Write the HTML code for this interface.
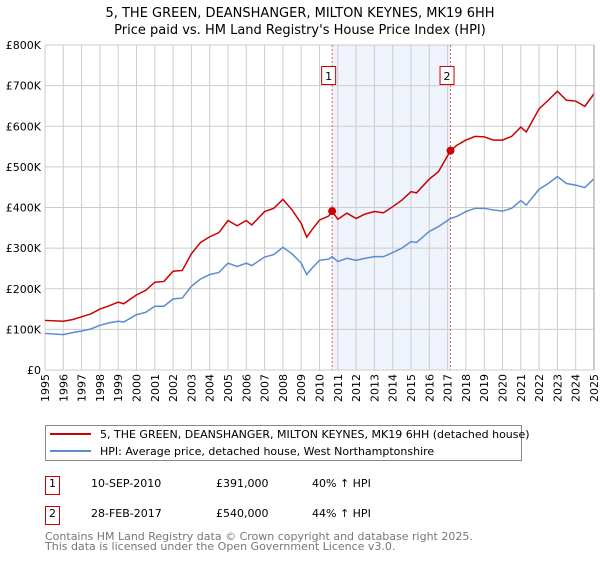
<!DOCTYPE html>
<html><head><meta charset="utf-8"><style>
body{margin:0;background:#fff;font-family:"Liberation Sans","DejaVu Sans",sans-serif;}
svg text{font-family:"DejaVu Sans","Liberation Sans",sans-serif;}
</style></head><body>
<svg id="chart" width="600" height="560" viewBox="0 0 600 560" xmlns="http://www.w3.org/2000/svg">
<text x="300" y="17" text-anchor="middle" font-size="13">5, THE GREEN, DEANSHANGER, MILTON KEYNES, MK19 6HH</text>
<text x="300" y="34" text-anchor="middle" font-size="13">Price paid vs. HM Land Registry's House Price Index (HPI)</text>
<g id="plot"></g>
<g>
<rect x="45.5" y="425.5" width="476" height="35" fill="#fff" stroke="#888"/>
<line x1="50" y1="434" x2="91" y2="434" stroke="#cc0000" stroke-width="2"/>
<text x="100" y="438" font-size="11">5, THE GREEN, DEANSHANGER, MILTON KEYNES, MK19 6HH (detached house)</text>
<line x1="50" y1="451" x2="91" y2="451" stroke="#5b8bd0" stroke-width="2"/>
<text x="100" y="455" font-size="11">HPI: Average price, detached house, West Northamptonshire</text>
</g>
<g font-size="11">
<rect x="45.5" y="476.5" width="14" height="18" fill="none" stroke="#cc0000"/>
<text x="52.5" y="487" text-anchor="middle">1</text>
<text x="91" y="487">10-SEP-2010</text><text x="216" y="487">£391,000</text><text x="312" y="487">40% ↑ HPI</text>
<rect x="45.5" y="506.5" width="14" height="18" fill="none" stroke="#cc0000"/>
<text x="52.5" y="517" text-anchor="middle">2</text>
<text x="91" y="517">28-FEB-2017</text><text x="216" y="517">£540,000</text><text x="312" y="517">44% ↑ HPI</text>
</g>
<text x="45" y="540" font-size="11" fill="#777">Contains HM Land Registry data © Crown copyright and database right 2025.</text>
<text x="45" y="550" font-size="11" fill="#777">This data is licensed under the Open Government Licence v3.0.</text>
</svg>
<script>
const yearsRed=[1995,1996,1996.5,1997,1997.5,1998,1998.5,1999,1999.3,2000,2000.5,2001,2001.5,2002,2002.5,2003,2003.5,2004,2004.5,2005,2005.5,2006,2006.3,2007,2007.5,2008,2008.5,2009,2009.3,2009.6,2010,2010.5,2010.69,2011,2011.5,2012,2012.5,2013,2013.5,2014,2014.5,2015,2015.3,2016,2016.5,2017.16,2017.5,2018,2018.5,2019,2019.5,2020,2020.5,2021,2021.3,2022,2022.5,2023,2023.5,2024,2024.5,2025];
const redValues=[122,120,124,131,138,150,158,167,163,185,196,216,218,243,245,286,314,328,338,368,355,368,357,390,398,420,394,361,327,346,369,379,391,371,386,373,384,390,387,402,418,439,436,470,488,540,553,566,575,574,566,566,575,598,586,643,664,686,664,662,649,680];
const hpiValues=[90,87,92,96,101,110,116,120,118,136,142,157,157,175,177,206,224,235,240,263,255,263,257,278,284,302,286,263,235,251,270,273,279,267,275,270,275,279,279,289,300,316,314,341,353,373,378,390,398,398,394,391,398,417,406,445,459,476,459,455,449,471];
const yTicks=[0,100,200,300,400,500,600,700,800];
const yTickLabels=["£0","£100K","£200K","£300K","£400K","£500K","£600K","£700K","£800K"];
const xTicks=[1995,1996,1997,1998,1999,2000,2001,2002,2003,2004,2005,2006,2007,2008,2009,2010,2011,2012,2013,2014,2015,2016,2017,2018,2019,2020,2021,2022,2023,2024,2025];
const saleDates=[2010.69,2017.16];
const saleValues=[391,540];
const saleLabels=["1","2"];

const X0=45,X1=594,Y0=370,Y1=45;
const xs=y=>X0+(y-1995)/30*(X1-X0);
const ys=v=>Y0-v/800*(Y0-Y1);
const NS="http://www.w3.org/2000/svg";
const plot=document.getElementById('plot');
function mk(t,a){const e=document.createElementNS(NS,t);for(const k in a)e.setAttribute(k,a[k]);plot.appendChild(e);return e;}

const shade=mk('rect',{x:xs(saleDates[0]),y:Y1,width:xs(saleDates[1])-xs(saleDates[0]),height:Y0-Y1,fill:'#eef3fc'});


xTicks.forEach(t=>{
  const l=mk('line',{x1:xs(t),x2:xs(t),y1:Y1,y2:Y0,stroke:'#cccccc'});
  
  
  const tx=mk('text',{x:0,y:0,'font-size':11,'text-anchor':'end',transform:`translate(${xs(t)+4},${Y0+4}) rotate(-90)`});
  tx.textContent=t;
  
  
});
yTicks.forEach((t,i)=>{
  const l=mk('line',{x1:X0,x2:X1,y1:ys(t),y2:ys(t),stroke:'#cccccc'});
  
  
  const tx=mk('text',{x:X0-4,y:ys(t)+4,'font-size':11,'text-anchor':'end'});
  tx.textContent=yTickLabels[i];
  
  
});
saleDates.forEach((d,i)=>{
  const l=mk('line',{x1:xs(d),x2:xs(d),y1:Y1,y2:Y0,stroke:'#e06060','stroke-dasharray':'2,2'});
  
  
  const r=mk('rect',{x:xs(d)-10.5,y:66.5,width:14,height:18,fill:'#fff',stroke:'#cc0000'});
  
  
  const tx=mk('text',{x:xs(d)-3.5,y:80,'font-size':11,'text-anchor':'middle'});
  tx.textContent=saleLabels[i];
  
  
});
const hp=mk('polyline',{points:yearsRed.map((y,i)=>xs(y)+','+ys(hpiValues[i])).join(' '),fill:'none',stroke:'#5b8bd0','stroke-width':1.5});


const rp=mk('polyline',{points:yearsRed.map((y,i)=>xs(y)+','+ys(redValues[i])).join(' '),fill:'none',stroke:'#cc0000','stroke-width':1.5});


saleDates.forEach((d,i)=>{
  const c=mk('circle',{cx:xs(d),cy:ys(saleValues[i]),r:4,fill:'#cc0000'});
  
  
});
const ax=mk('line',{x1:X1,x2:X1,y1:Y1,y2:Y0,stroke:'#999'});


</script>
</body></html>
